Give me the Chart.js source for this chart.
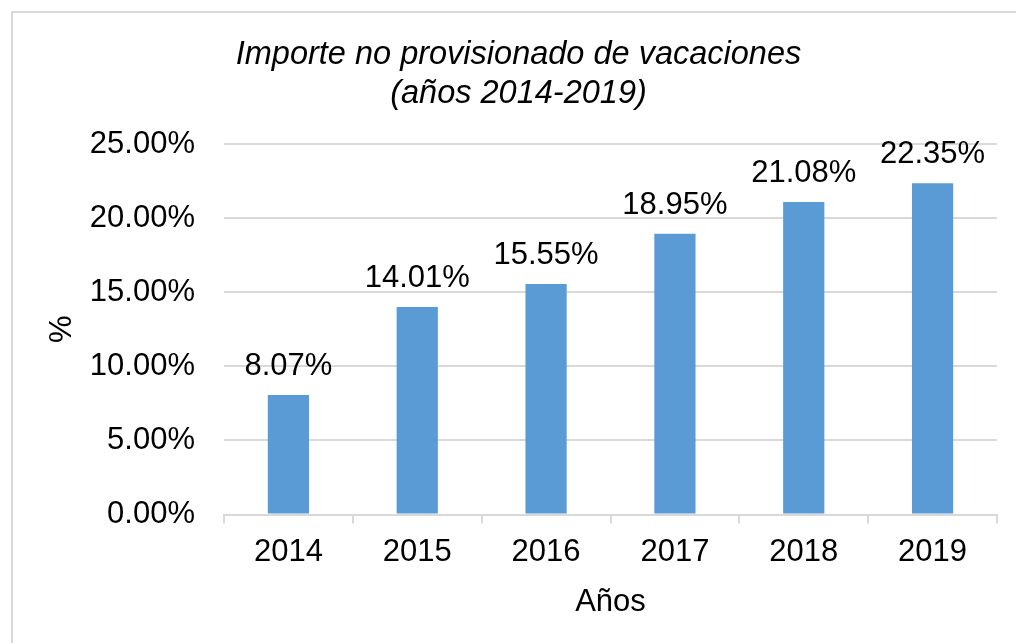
<!DOCTYPE html>
<html>
<head>
<meta charset="utf-8">
<script src="https://cdn.jsdelivr.net/npm/chart.js@4/dist/chart.umd.min.js"></script>
<style>
  html, body { margin: 0; padding: 0; overflow: hidden; background: #fff; }
  #frame { position: absolute; left: 11px; top: 11px; width: 1030px; height: 660px; border: 2px solid #d9d9d9; box-sizing: border-box; }
  #wrap { position: absolute; left: 0; top: 0; width: 1016px; height: 643px; }
</style>
</head>
<body>
<div id="frame"></div>
<div id="wrap"><canvas id="chart"></canvas></div>
<script>
const years = ['2014', '2015', '2016', '2017', '2018', '2019'];
const importe = [8.07, 14.01, 15.55, 18.95, 21.08, 22.35];
const titleLines = ['Importe no provisionado de vacaciones', '(años 2014-2019)'];

const FONT = "'Liberation Sans', Arial, sans-serif";
const pct = v => v.toFixed(2) + '%';

// etiquetas de valor encima de cada barra
const barLabels = {
  id: 'barLabels',
  afterDatasetsDraw(chart) {
    const ctx = chart.ctx;
    const meta = chart.getDatasetMeta(0);
    ctx.save();
    ctx.font = '31px ' + FONT;
    ctx.fillStyle = '#000';
    ctx.textAlign = 'center';
    ctx.textBaseline = 'alphabetic';
    meta.data.forEach((bar, i) => {
      ctx.fillText(pct(importe[i]), bar.x, bar.y - 20);
    });
    ctx.restore();
  }
};

new Chart(document.getElementById('chart'), {
  type: 'bar',
  data: {
    labels: years,
    datasets: [{
      data: importe,
      backgroundColor: '#5B9BD5',
      barPercentage: 0.32,
      categoryPercentage: 1
    }]
  },
  options: {
    responsive: true,
    maintainAspectRatio: false,
    animation: false,
    layout: { padding: { left: 40, right: 19, top: 12, bottom: 18 } },
    plugins: {
      legend: { display: false },
      tooltip: { enabled: false },
      title: {
        display: true,
        text: titleLines,
        color: '#000',
        font: { family: FONT, size: 32.5, style: 'italic', weight: 'normal', lineHeight: 1.2 },
        padding: { top: 23, bottom: 31 }
      }
    },
    scales: {
      x: {
        grid: { offset: true, drawOnChartArea: false, drawTicks: true, tickLength: 9, color: '#d9d9d9', lineWidth: 2 },
        border: { display: true, color: '#d9d9d9', width: 2 },
        ticks: { color: '#000', font: { family: FONT, size: 31 }, padding: 10 },
        title: { display: true, text: 'Años', color: '#000', font: { family: FONT, size: 31 }, padding: { top: 3, bottom: 4 } }
      },
      y: {
        min: 0,
        max: 25,
        afterFit(scale) { scale.width = 184; },
        grid: { drawTicks: false, color: '#d9d9d9', lineWidth: 2 },
        border: { display: false },
        ticks: { stepSize: 5, color: '#000', font: { family: FONT, size: 31 }, padding: 29, callback: v => pct(v) },
        title: { display: true, text: '%', color: '#000', font: { family: FONT, size: 31 }, padding: { top: 4, bottom: 4 } }
      }
    }
  },
  plugins: [barLabels]
});
</script>
</body>
</html>
